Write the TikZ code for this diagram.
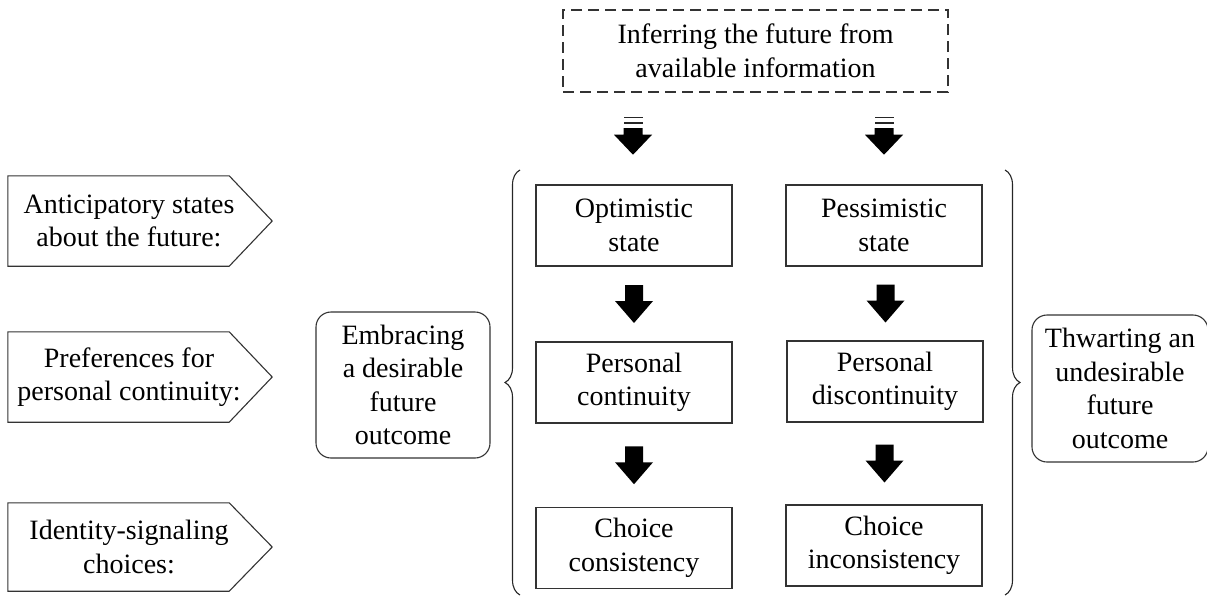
\documentclass[tikz,border=0pt]{standalone}
\usepackage{fontspec}
\setmainfont{Liberation Serif}
\usetikzlibrary{decorations.pathreplacing}
\tikzset{
  txt/.style={font=\fontsize{28}{33.5}\selectfont, align=center, inner sep=0pt},
  line/.style={draw=black!80, line width=1.1pt},
  box/.style={txt, line, minimum width=196, minimum height=81},
  sidebox/.style={txt, line, rounded corners=15pt, minimum width=174, minimum height=146},
  dashbox/.style={txt, line, dash pattern=on 11pt off 6pt, minimum width=385, minimum height=82},
  penta/.style={txt, minimum width=242, minimum height=90},
  bracestyle/.style={draw=black!85, line width=1.1pt, decorate, decoration={brace, amplitude=15pt}},
  blockarrow/.pic={\fill[black] (-9,-19) -- (9,-19) -- (9,-3) -- (19,-3) -- (0,19) -- (-19,-3) -- (-9,-3) -- cycle;},
  stripedarrow/.pic={
    \fill[black!85] (-9.5,-19) rectangle (9.5,-17.3);
    \fill[black!85] (-9.5,-13.5) rectangle (9.5,-11.5);
    \fill[black] (-9.5,-7.5) -- (9.5,-7.5) -- (9.5,-1) -- (19,-1) -- (0,19) -- (-19,-1) -- (-9.5,-1) -- cycle;}
}
\begin{document}
\begin{tikzpicture}[x=1pt,y=-1pt]
\useasboundingbox (0,0) rectangle (1207,597);

% top dashed box
\node[dashbox] (inf) at (755.5,51) {Inferring the future from\\available information};

% inner boxes
\node[box] (o1) at (634,225.5) {Optimistic\\state};
\node[box] (p1) at (884,225.5) {Pessimistic\\state};
\node[box] (o2) at (634,382.5) {Personal\\continuity};
\node[box] (p2) at (885,381.5) {Personal\\discontinuity};
\node[box] (o3) at (634,548) {Choice\\consistency};
\node[box] (p3) at (884,545.5) {Choice\\inconsistency};

% side rounded boxes
\node[sidebox] (emb) at (403,385) {Embracing\\a desirable\\future\\outcome};
\node[sidebox, minimum width=176, minimum height=147] (thw) at (1120,388.5) {Thwarting an\\undesirable\\future\\outcome};

% pentagon labels
\node[penta] (a1) at (129,221) {Anticipatory states\\about the future:};
\node[penta] (a2) at (129,377) {Preferences for\\personal continuity:};
\node[penta, minimum height=88] (a3) at (129,547) {Identity-signaling\\choices:};
\foreach \n in {a1,a2,a3}{
  \draw[line, line join=miter] (\n.north west) -- ([xshift=-21pt]\n.north east) -- ([xshift=22pt]\n.east)
     -- ([xshift=-21pt]\n.south east) -- (\n.south west) -- cycle;
}

% braces
\draw[bracestyle] (520,595) -- (520,170);
\draw[bracestyle] (1005,170) -- (1005,595);

% arrows
\path (o1.north |- inf.south) -- (o1.north) coordinate[pos=0.47] (s1);
\path (p1.north |- inf.south) -- (p1.north) coordinate[pos=0.47] (s2);
\pic at ([xshift=-1pt]s1) {stripedarrow};
\pic at (s2) {stripedarrow};
\path (o1.south) -- (o2.north) coordinate[pos=0.5] (m1);
\path (p1.south) -- (p2.north) coordinate[pos=0.5] (m2);
\path (o2.south) -- (o3.north) coordinate[pos=0.5] (m3);
\path (p2.south) -- (p3.north) coordinate[pos=0.5] (m4);
\pic at (m1) {blockarrow};
\pic at ([xshift=1pt]m2) {blockarrow};
\pic at (m3) {blockarrow};
\pic at (m4) {blockarrow};
\end{tikzpicture}
\end{document}
